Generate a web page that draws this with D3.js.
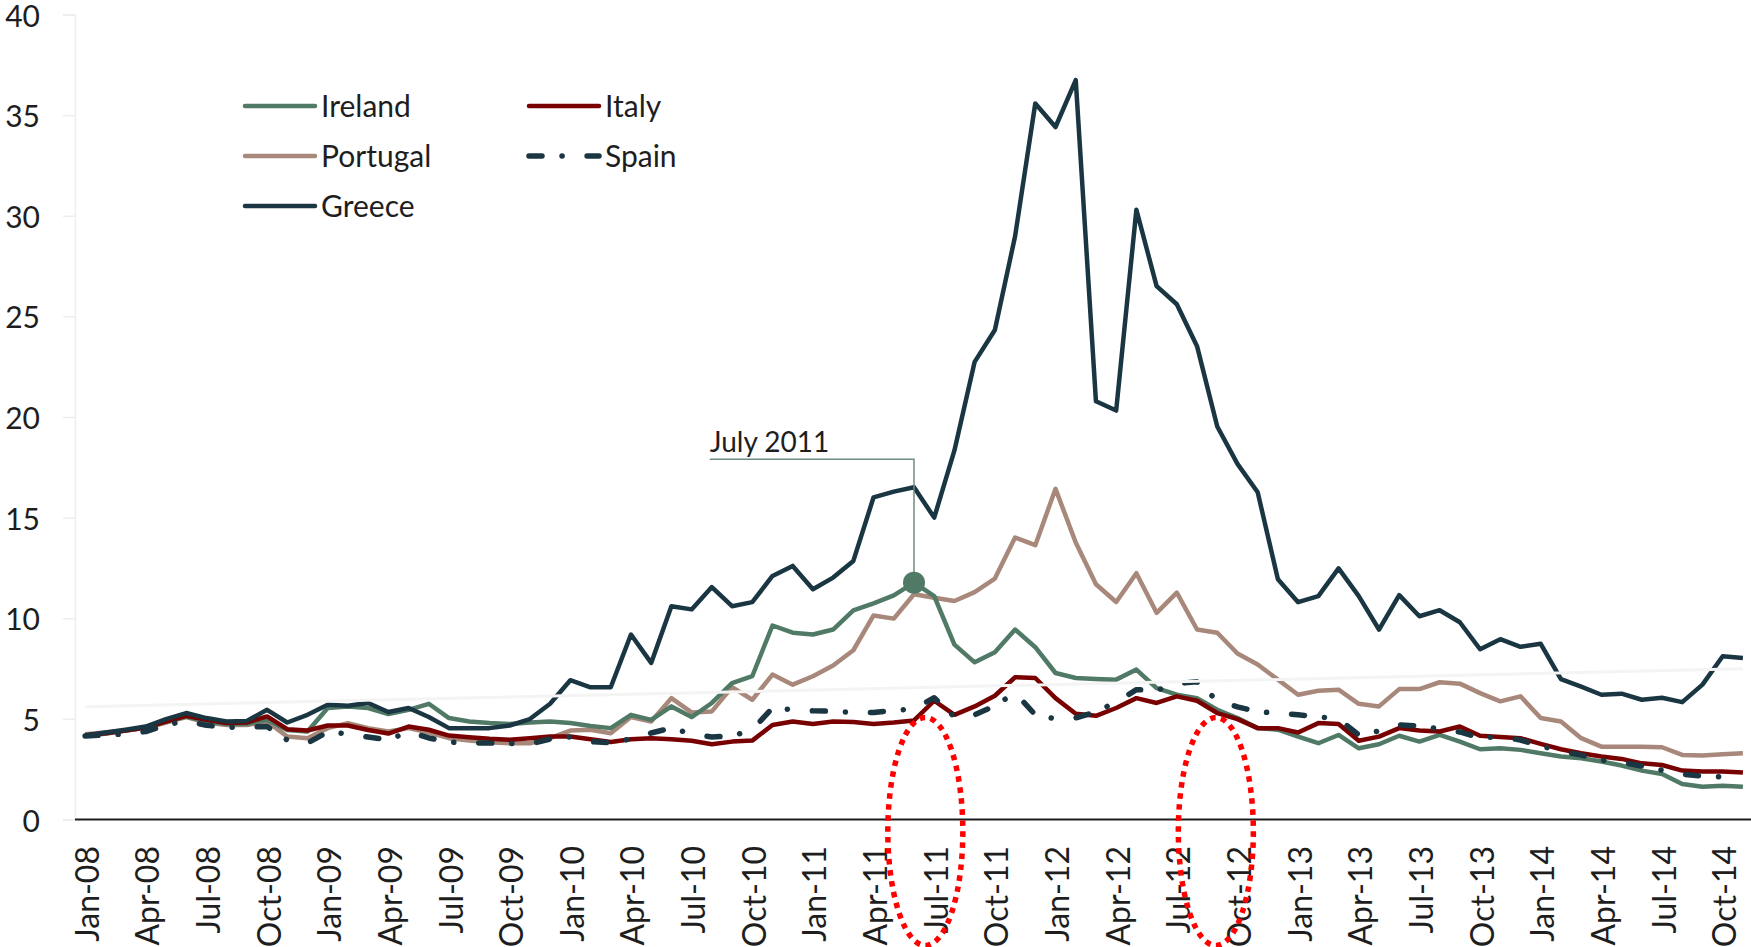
<!DOCTYPE html>
<html>
<head>
<meta charset="utf-8">
<script src="https://cdnjs.cloudflare.com/ajax/libs/d3/7.8.5/d3.min.js"></script>
<style>
  html, body { margin: 0; padding: 0; background: #fff; }
  svg text { font-family: Lato, "Noto Sans", sans-serif; fill: #1e1e1e; }
</style>
</head>
<body>
<svg id="chart" width="1751" height="947"></svg>
<script>
// months Jan-08 .. Nov-14
const months = d3.timeMonths(new Date(2008, 0, 1), new Date(2014, 11, 1));
const yTicks = [0, 5, 10, 15, 20, 25, 30, 35, 40];

// 10y government bond yields, %
const greece = [4.17,4.32,4.46,4.62,4.99,5.29,5.04,4.87,4.9,5.45,
  4.82,5.2,5.7,5.65,5.79,5.34,5.54,5.09,4.54,4.54,
  4.54,4.67,4.99,5.75,6.92,6.57,6.57,9.19,7.78,10.6,
  10.44,11.55,10.6,10.8,12.1,12.6,11.44,12.02,12.85,16.01,
  16.29,16.51,15.0,18.34,22.74,24.32,28.98,35.58,34.41,36.74,
  20.78,20.32,30.3,26.5,25.6,23.52,19.53,17.67,16.26,11.94,
  10.8,11.1,12.48,11.1,9.44,11.15,10.1,10.4,9.8,8.46,
  8.96,8.58,8.73,6.98,6.6,6.2,6.25,5.95,6.05,5.83,
  6.7,8.11,8.03];
const ireland = [4.19,4.26,4.42,4.57,4.87,5.12,4.87,4.75,4.75,4.95,
  4.45,4.37,5.54,5.62,5.54,5.24,5.45,5.75,5.04,4.87,
  4.79,4.75,4.82,4.87,4.79,4.65,4.54,5.2,4.95,5.62,
  5.09,5.79,6.78,7.12,9.64,9.28,9.19,9.44,10.39,10.74,
  11.14,11.77,11.1,8.69,7.81,8.31,9.44,8.56,7.28,7.03,
  6.98,6.95,7.45,6.53,6.2,6.03,5.45,5.04,4.54,4.46,
  4.12,3.79,4.2,3.54,3.74,4.16,3.87,4.2,3.87,3.49,
  3.54,3.46,3.29,3.13,3.04,2.88,2.68,2.43,2.26,1.76,
  1.63,1.68,1.63];
const italy = [4.19,4.29,4.42,4.57,4.87,5.15,4.95,4.79,4.82,5.12,
  4.49,4.42,4.67,4.67,4.45,4.27,4.62,4.46,4.17,4.09,
  4.01,3.96,4.04,4.12,4.12,3.99,3.85,3.99,4.04,3.99,
  3.91,3.74,3.87,3.92,4.7,4.87,4.75,4.87,4.84,4.75,
  4.82,4.92,5.9,5.2,5.62,6.15,7.07,7.03,6.03,5.25,
  5.15,5.54,6.03,5.79,6.12,5.9,5.29,4.99,4.54,4.54,
  4.32,4.79,4.75,3.91,4.12,4.54,4.42,4.37,4.62,4.16,
  4.1,4.04,3.76,3.49,3.29,3.13,3.01,2.79,2.71,2.43,
  2.38,2.38,2.34];
const portugal = [4.24,4.32,4.42,4.54,4.82,5.09,4.82,4.7,4.7,4.87,
  4.12,4.04,4.54,4.79,4.54,4.37,4.54,4.32,4.04,3.92,
  3.84,3.79,3.79,4.04,4.42,4.46,4.29,5.09,4.87,6.03,
  5.32,5.37,6.58,5.95,7.2,6.7,7.12,7.65,8.41,10.14,
  9.98,11.19,11.02,10.86,11.3,11.97,14.01,13.63,16.43,13.76,
  11.69,10.81,12.24,10.27,11.27,9.44,9.28,8.25,7.7,6.95,
  6.2,6.4,6.45,5.75,5.62,6.48,6.48,6.82,6.75,6.28,
  5.87,6.12,5.04,4.87,4.04,3.62,3.62,3.62,3.59,3.21,
  3.18,3.24,3.29];
const spain = [4.15,4.2,4.25,4.37,4.7,4.9,4.68,4.58,4.6,4.62,
  3.95,3.8,4.35,4.25,4.1,3.95,4.37,4.05,3.85,3.8,
  3.8,3.78,3.75,4.0,4.1,3.87,3.82,4.0,4.3,4.55,
  4.25,4.1,4.15,4.45,5.55,5.45,5.4,5.38,5.32,5.32,
  5.42,5.5,6.05,5.1,5.2,5.65,6.3,5.2,5.0,5.05,
  5.35,5.83,6.45,6.42,6.75,6.85,5.9,5.6,5.35,5.3,
  5.2,5.1,5.0,4.2,4.4,4.7,4.65,4.5,4.35,4.05,
  4.12,3.95,3.65,3.4,3.2,2.95,2.85,2.65,2.45,2.25,
  2.15,2.12,2.12];

// annotation + highlighted periods (month index)
const markIndex = 41;
const markLabel = "July 2011";
const highlightAt = [41.56, 55.93];

const series = [
  { name: "Portugal", values: portugal, color: "#a8887a", dash: null, w: 4.5 },
  { name: "Ireland",  values: ireland,  color: "#507a66", dash: null, w: 4.5 },
  { name: "Italy",    values: italy,    color: "#780000", dash: null, w: 4.5 },
  { name: "Spain",    values: spain,    color: "#1a3642", dash: "13 20 0.1 25", w: 5.5 },
  { name: "Greece",   values: greece,   color: "#1a3642", dash: null, w: 4.5 }
];

const width = 1751, height = 947;
const svg = d3.select("#chart");

const x = d3.scaleLinear().domain([-0.5, months.length - 0.5]).range([75, 1753]);
const y = d3.scaleLinear().domain([0, 40]).range([819.5, 14.5]);

// faint y axis
const yAxis = svg.append("g")
  .attr("transform", "translate(75,0)")
  .call(d3.axisLeft(y).tickValues(yTicks).tickSize(12).tickFormat(""));
yAxis.selectAll("line").attr("stroke", "#ededed").attr("stroke-width", 1.5);
yAxis.select(".domain").attr("stroke", "#efefef").attr("stroke-width", 1.5);

svg.append("g").selectAll("text")
  .data(yTicks)
  .enter().append("text")
  .attr("x", 40)
  .attr("y", d => y(d))
  .attr("dy", "0.4em")
  .attr("text-anchor", "end")
  .style("font-size", "30px")
  .text(d => d);

// x labels, every 3rd month
const fmt = d3.timeFormat("%b-%y");
svg.append("g").selectAll("text")
  .data(months.map((m, i) => ({ m, i })).filter(d => d.i % 3 === 0))
  .enter().append("text")
  .attr("transform", d => `translate(${x(d.i) + 2},846) rotate(-90)`)
  .attr("dy", "0.36em")
  .attr("text-anchor", "end")
  .style("font-size", "32px")
  .text(d => fmt(d.m));

// lines
const line = d3.line().x((d, i) => x(i)).y(d => y(d));
svg.append("g").selectAll("path")
  .data(series)
  .enter().append("path")
  .attr("d", d => line(d.values))
  .attr("fill", "none")
  .attr("stroke", d => d.color)
  .attr("stroke-width", d => d.w)
  .attr("stroke-linejoin", "round")
  .attr("stroke-linecap", d => d.dash ? "round" : "butt")
  .attr("stroke-dasharray", d => d.dash);

// x axis line
svg.append("line")
  .attr("x1", 75).attr("x2", width)
  .attr("y1", y(0)).attr("y2", y(0))
  .attr("stroke", "#1e1e1e").attr("stroke-width", 2);

// linear trend of Portugal (very faint, drawn on top)
const idx = d3.range(portugal.length);
const mx = d3.mean(idx), my = d3.mean(portugal);
const slope = d3.sum(idx, i => (i - mx) * (portugal[i] - my)) / d3.sum(idx, i => (i - mx) * (i - mx));
const icpt = my - slope * mx;
svg.append("line")
  .attr("x1", x(0)).attr("y1", y(icpt))
  .attr("x2", x(idx.length - 1)).attr("y2", y(icpt + slope * (idx.length - 1)))
  .attr("stroke", "#f4f4f4").attr("stroke-width", 3);

// annotation
const noteLevel = 17.9;
const noteFrom = 30.9;
svg.append("path")
  .attr("d", `M${x(noteFrom)},${y(noteLevel)}H${x(markIndex)}V${y(ireland[markIndex])}`)
  .attr("fill", "none")
  .attr("stroke", "#6f8c82")
  .attr("stroke-width", 1.5);
svg.append("circle")
  .attr("cx", x(markIndex)).attr("cy", y(ireland[markIndex]))
  .attr("r", 11)
  .attr("fill", "#507a66");
svg.append("text")
  .attr("x", x(noteFrom))
  .attr("y", y(noteLevel) - 7)
  .style("font-size", "28px")
  .text(markLabel);

// red dotted highlight ellipses
svg.append("g").selectAll("ellipse")
  .data(highlightAt)
  .enter().append("ellipse")
  .attr("cx", d => x(d))
  .attr("cy", y(0) + 12)
  .attr("rx", 37.5)
  .attr("ry", 114)
  .attr("fill", "none")
  .attr("stroke", "#ff0000")
  .attr("stroke-width", 5.5)
  .attr("stroke-dasharray", "5.5 5.5");

// legend
const legendOrder = [
  { name: "Ireland", col: 0, row: 0 },
  { name: "Italy", col: 1, row: 0 },
  { name: "Portugal", col: 0, row: 1 },
  { name: "Spain", col: 1, row: 1 },
  { name: "Greece", col: 0, row: 2 }
];
const legend = svg.append("g").selectAll("g")
  .data(legendOrder)
  .enter().append("g")
  .attr("transform", d => `translate(${245 + d.col * 284},${106 + d.row * 50})`);
legend.append("line")
  .attr("x1", 0).attr("x2", 70)
  .attr("stroke", d => series.find(s => s.name === d.name).color)
  .attr("stroke-width", d => series.find(s => s.name === d.name).w)
  .attr("stroke-linecap", "round")
  .attr("stroke-dasharray", d => series.find(s => s.name === d.name).dash);
legend.append("text")
  .attr("x", 76)
  .attr("dy", "0.36em")
  .style("font-size", "30px")
  .text(d => d.name);
</script>
</body>
</html>
